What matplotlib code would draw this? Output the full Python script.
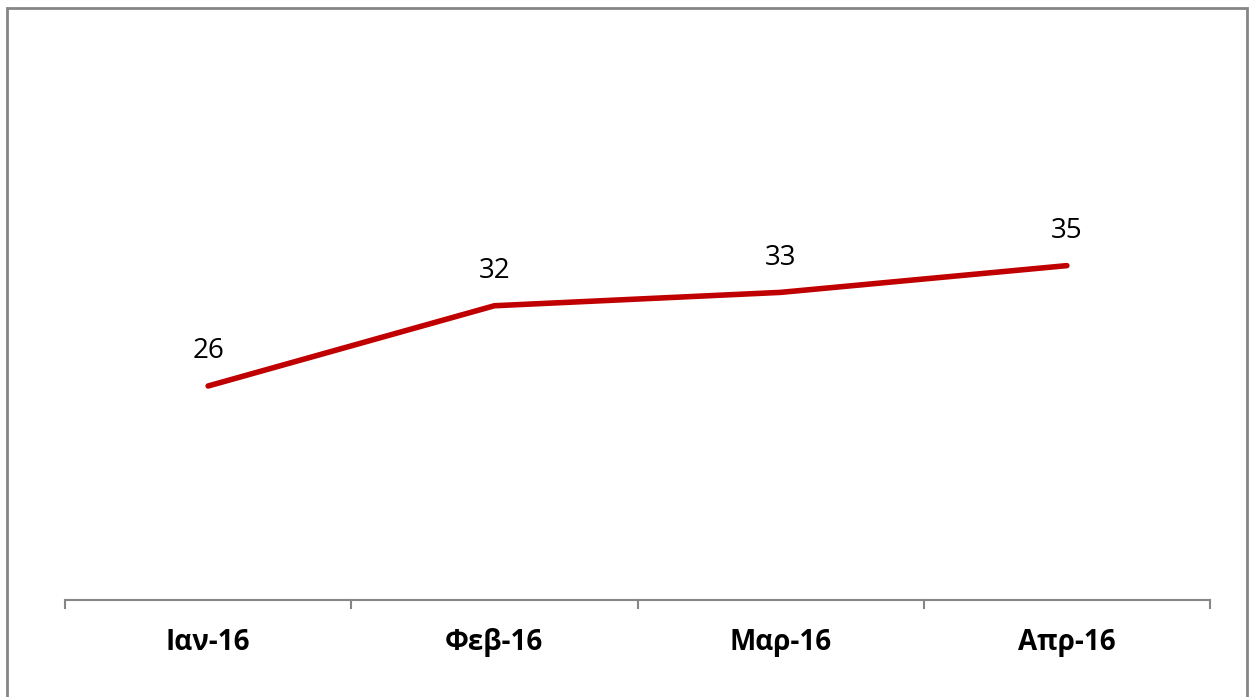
import matplotlib
matplotlib.use('Agg')
import matplotlib.pyplot as plt
from matplotlib.patches import Rectangle

# data
months = ['Ιαν-16', 'Φεβ-16', 'Μαρ-16', 'Απρ-16']
values = [26, 32, 33, 35]

plt.rcParams['font.family'] = ['Open Sans', 'DejaVu Sans']

fig = plt.figure(figsize=(12.53, 6.97), dpi=100)
# outer grey frame of the chart object
fig.patches.append(Rectangle((7 / 1253, -0.01), 1240 / 1253, 1 - 8 / 697 + 0.01,
                             transform=fig.transFigure, fill=False,
                             edgecolor='#868686', linewidth=2))

ax = fig.add_axes([65 / 1253, 1 - 600 / 697, 1145 / 1253, 535 / 697])
x = range(len(months))
ax.plot(x, values, color='#C00000', linewidth=4, solid_capstyle='round')
for xi, v in zip(x, values):
    ax.annotate(str(v), (xi, v), xytext=(0, 15), textcoords='offset points',
                ha='center', va='bottom', fontsize=20, color='black')

ax.set_xlim(-0.5, len(months) - 0.5)
ax.set_ylim(10, 50)
ax.set_yticks([])
for s in ['top', 'right', 'left']:
    ax.spines[s].set_visible(False)
ax.spines['bottom'].set_color('#868686')
ax.spines['bottom'].set_linewidth(1.5)

ax.set_xticks(x)
ax.set_xticklabels(months, fontsize=20, fontweight='bold')
ax.tick_params(axis='x', length=0, pad=20.5)
# category boundary tick marks
for b in [i - 0.5 for i in range(len(months) + 1)]:
    ax.plot([b, b], [0, -0.015], transform=ax.get_xaxis_transform(),
            color='#868686', linewidth=1.5, clip_on=False)

fig.savefig('out.png', dpi=100)
